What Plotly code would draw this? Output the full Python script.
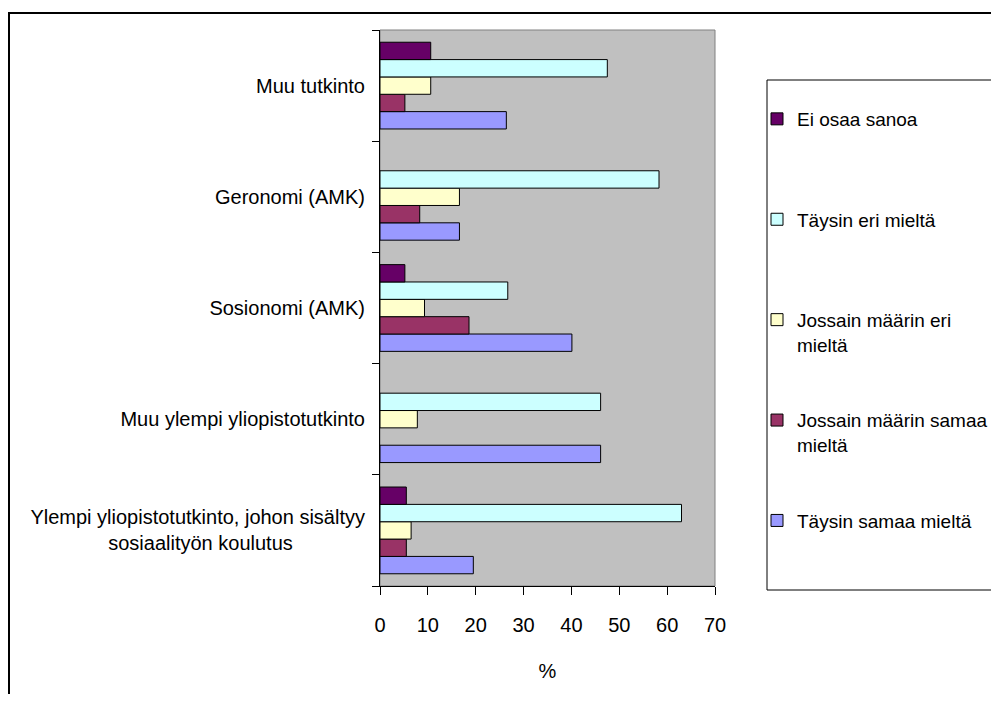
import plotly.graph_objects as go

NB = "\u00a0"
categories = [
    "Ylempi yliopistotutkinto, johon sisältyy<br>sosiaalityön koulutus" + NB * 13,
    "Muu ylempi yliopistotutkinto",
    "Sosionomi (AMK)",
    "Geronomi (AMK)",
    "Muu tutkinto",
]

# series in plotting order (first = bottom bar in each group)
series_names = [
    "Täysin samaa mieltä",
    "Jossain määrin samaa<br>mieltä",
    "Jossain määrin eri<br>mieltä",
    "Täysin eri mieltä",
    "Ei osaa sanoa",
]
taysin_samaa = [19.5, 46.1, 40.1, 16.6, 26.4]
jossain_samaa = [5.5, 0, 18.6, 8.3, 5.2]
jossain_eri = [6.5, 7.8, 9.3, 16.6, 10.6]
taysin_eri = [63.0, 46.1, 26.7, 58.3, 47.5]
ei_osaa = [5.5, 0, 5.2, 0, 10.6]
series_values = [taysin_samaa, jossain_samaa, jossain_eri, taysin_eri, ei_osaa]
series_colors = ["#9999FF", "#993366", "#FFFFCC", "#CCFFFF", "#660066"]

x_ticks = [0, 10, 20, 30, 40, 50, 60, 70]

FONT = "Liberation Sans, Arial, sans-serif"

fig = go.Figure()
n = len(series_names)
for i, (name, vals, col) in enumerate(zip(series_names, series_values, series_colors)):
    label = name if "<br>" in name else name + "<br>" + NB
    fig.add_trace(go.Bar(
        y=categories, x=[v if v else None for v in vals], orientation="h", name=label,
        marker=dict(color=col, line=dict(color="black", width=1)),
        legendgroup=f"g{i}",
        legendrank=1000 + (n - i),
    ))

# page is offset by the 8px body margin
OFF = 8
W, H = 999 - OFF, 702 - 2 * OFF
PL, PR, PT, PB = 380 - OFF, 715 - OFF, 30 - OFF, 586 - OFF
PW, PH = PR - PL, PB - PT


def px_x(x):
    return (x - OFF - PL) / PW


def px_y(y):
    return (PB - (y - OFF)) / PH


fig.update_layout(
    width=W, height=H,
    margin=dict(l=PL, r=W - PR, t=PT, b=H - PB, autoexpand=False),
    paper_bgcolor="white",
    plot_bgcolor="#C0C0C0",
    barmode="group",
    bargap=0.22,
    bargroupgap=0,
    font=dict(family=FONT, size=20, color="black"),
    showlegend=True,
    legend=dict(
        x=px_x(757), xanchor="left",
        y=px_y(100), yanchor="top",
        bgcolor="rgba(0,0,0,0)", borderwidth=0,
        traceorder="grouped",
        tracegroupgap=48,
        valign="top",
        font=dict(family=FONT, size=19, color="black"),
    ),
    xaxis=dict(
        range=[0, 70], tickvals=x_ticks, ticktext=[str(v) for v in x_ticks],
        showgrid=False, zeroline=False,
        showline=True, linecolor="black", linewidth=1,
        ticks="outside", ticklen=8, tickcolor="black",
        ticklabelstandoff=13,
        title=dict(text="%", standoff=28, font=dict(family=FONT, size=20)),
    ),
    yaxis=dict(
        showgrid=False, zeroline=False,
        showline=True, linecolor="black", linewidth=1,
        ticks="outside", ticklen=7, tickcolor="black",
        tickson="boundaries",
        ticklabelstandoff=10,
        categoryorder="array", categoryarray=categories,
    ),
    shapes=[
        # outer chart frame
        dict(type="rect", xref="paper", yref="paper",
             x0=px_x(9), x1=px_x(1030),
             y0=px_y(740), y1=px_y(13),
             line=dict(color="black", width=2), fillcolor="rgba(0,0,0,0)", layer="below"),
        # plot area border (gray)
        dict(type="rect", xref="paper", yref="paper", x0=0, x1=1, y0=0, y1=1,
             line=dict(color="#808080", width=1), fillcolor="#C0C0C0", layer="below"),
        # legend box
        dict(type="rect", xref="paper", yref="paper",
             x0=px_x(767), x1=px_x(1030),
             y0=px_y(590), y1=px_y(80),
             line=dict(color="black", width=1), fillcolor="white", layer="below"),
    ],
)

fig.write_html("out.html")
